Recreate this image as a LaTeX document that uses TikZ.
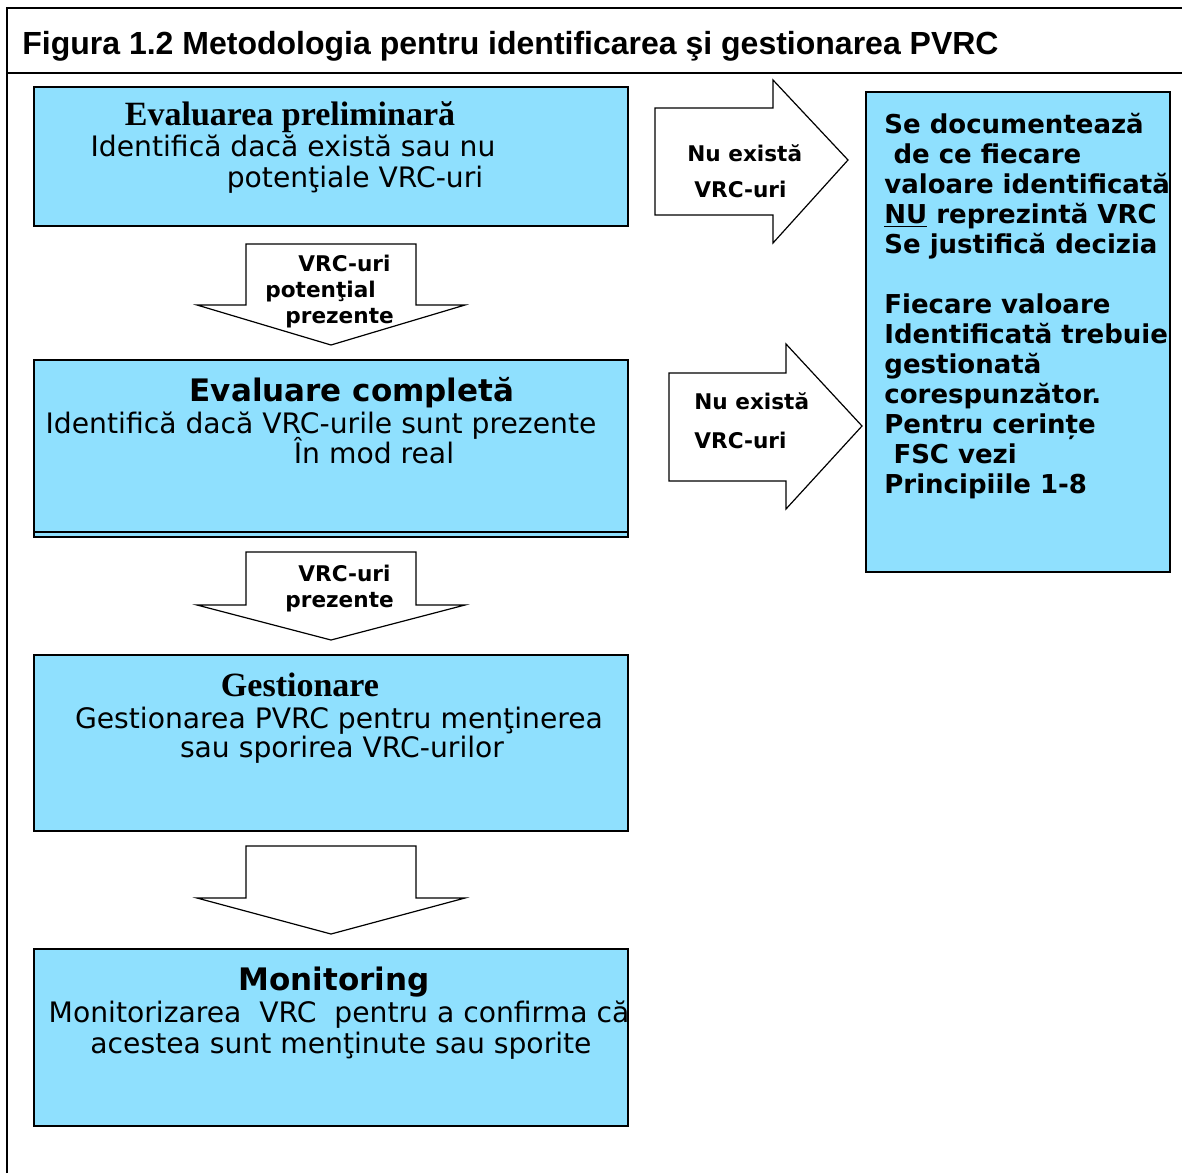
\documentclass[tikz,border=0pt]{standalone}
\usepackage{fontspec}
\setmainfont{DejaVu Sans}
\newfontfamily\titlefont{Liberation Sans}
\newfontfamily\headserif{Liberation Serif}
\usetikzlibrary{positioning}
\definecolor{boxblue}{RGB}{143,224,254}

\begin{document}
\begin{tikzpicture}[x=0.5pt, y=-0.5pt,
  box/.style={draw, line width=1pt, fill=boxblue, inner sep=0pt},
  barrow/.style={draw, fill=white, line width=0.6pt, line join=miter},
  head/.style={inner sep=0pt, yshift=-2pt, text height=1.5ex, text depth=.25ex, font=\headserif\bfseries\fontsize{17}{20}\selectfont},
  heads/.style={inner sep=0pt, yshift=-2.4pt, text height=1.5ex, text depth=.25ex, font=\bfseries\fontsize{15.5}{18}\selectfont},
  body/.style={inner sep=0pt, yshift=-2pt, text height=1.5ex, text depth=.25ex, font=\fontsize{14.1}{16}\selectfont},
  albl/.style={inner sep=0pt, yshift=-1pt, text height=1.5ex, text depth=.25ex, font=\bfseries\fontsize{10.8}{13}\selectfont}]
  \useasboundingbox (0,0) rectangle (1182,1173);
  % frame and title
  \draw[line width=1pt] (7,1173) -- (7,8) -- (1182,8);
  \draw[line width=1pt] (7,73) -- (1182,73);
  \node[inner sep=0pt, anchor=base west, font=\titlefont\bfseries\fontsize{16}{19}\selectfont] (title) at (22,54) {Figura 1.2 Metodologia pentru identificarea şi gestionarea PVRC};

  % left column
  \node[box, minimum width=297pt, minimum height=69.5pt] (prelim) at (331,156.5) {};
  \node[head] (prelimT) at (290,115) {Evaluarea preliminară};
  \node[body] (prelimA) at (293,146) {Identifică dacă există sau nu};
  \node[body] (prelimB) at (355,177) {potenţiale VRC-uri};

  \node[box, minimum width=297pt, minimum height=88.5pt] (complet) at (331,448.5) {};
  \draw[line width=0.6pt] (34,532) -- (628,532);
  \node[heads] (completT) at (352,390) {Evaluare completă};
  \node[body] (completA) at (321,423) {Identifică dacă VRC-urile sunt prezente};
  \node[body] (completB) at (374,453) {În mod real};

  \node[box, minimum width=297pt, minimum height=88pt] (gestiune) at (331,743) {};
  \node[head] (gestiuneT) at (300,686) {Gestionare};
  \node[body] (gestiuneA) at (339,718) {Gestionarea PVRC pentru menţinerea};
  \node[body] (gestiuneB) at (342,747) {sau sporirea VRC-urilor};

  \node[box, minimum width=297pt, minimum height=88.5pt] (monitor) at (331,1037.5) {};
  \node[heads] (monitorT) at (334,979) {Monitoring};
  \node[body] (monitorA) at (339,1012) {Monitorizarea \ VRC \ pentru a confirma că};
  \node[body] (monitorB) at (341,1043) {acestea sunt menţinute sau sporite};

  % down arrows
  \draw[barrow] (246,244) -- (416,244) -- (416,305) -- (465,305) -- (331,345) -- (197,305) -- (246,305) -- cycle;
  \node[albl, anchor=west] (d1a) at (298,263) {VRC-uri};
  \node[albl, anchor=west] (d1b) at (265,289) {potenţial};
  \node[albl, anchor=west] (d1c) at (285,315) {prezente};

  \draw[barrow] (246,552) -- (416,552) -- (416,605) -- (465,605) -- (331,640) -- (197,605) -- (246,605) -- cycle;
  \node[albl, anchor=west] (d2a) at (298,573) {VRC-uri};
  \node[albl, anchor=west] (d2b) at (285,599) {prezente};

  \draw[barrow] (246,846) -- (416,846) -- (416,898) -- (465,898) -- (331,934) -- (197,898) -- (246,898) -- cycle;

  % right arrows
  \draw[barrow] (655,108) -- (773,108) -- (773,80) -- (848,160) -- (773,243) -- (773,215) -- (655,215) -- cycle;
  \node[albl, anchor=west] (r1a) at (687,153) {Nu există};
  \node[albl, anchor=west] (r1b) at (694,189) {VRC-uri};

  \draw[barrow] (669,373) -- (786,373) -- (786,344) -- (862,426) -- (786,509) -- (786,481) -- (669,481) -- cycle;
  \node[albl, anchor=west] (r2a) at (694,401) {Nu există};
  \node[albl, anchor=west] (r2b) at (694,440) {VRC-uri};

  % right box
  \node[box, minimum width=152pt, minimum height=240pt] (decizie) at (1018,332) {};
  \node[inner sep=0pt, anchor=north west, align=left, font=\bfseries\fontsize{13}{15}\selectfont] (decizieT) at (884,113) {%
    Se documentează\\
    \hspace{0.35em}de ce fiecare\\
    valoare identificată\\
    \underline{NU} reprezintă VRC\\
    Se justifică decizia\\[15pt]
    Fiecare valoare\\
    Identificată trebuie\\
    gestionată\\
    corespunzător.\\
    Pentru cerințe\\
    \hspace{0.35em}FSC vezi\\
    Principiile 1-8};
\end{tikzpicture}
\end{document}
